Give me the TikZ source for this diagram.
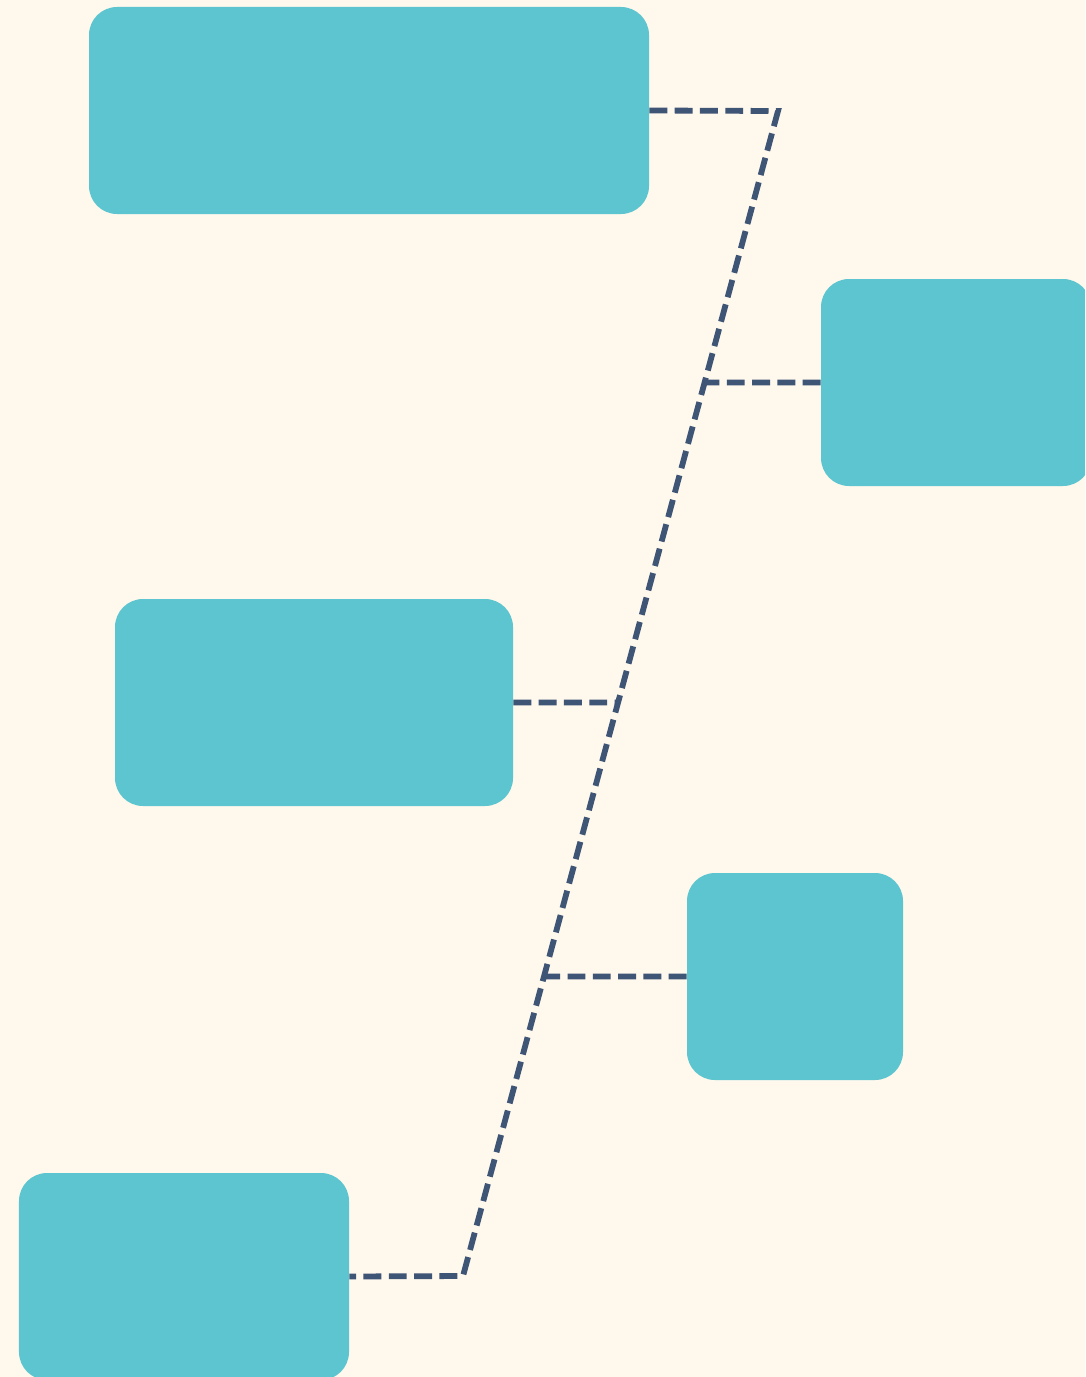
\documentclass[tikz,border=0pt]{standalone}
\usepackage{xcolor}
\usepackage{tikz}
\usetikzlibrary{positioning,calc}
\definecolor{fondo}{HTML}{FFF8EC}
\definecolor{ciano}{HTML}{5DC5CF}
\definecolor{linea}{HTML}{3E5576}
\tikzset{
  tappa/.style={rectangle,rounded corners=0.56cm,fill=ciano,draw=none,minimum height=4.14cm,inner sep=0pt},
  ramo/.style={linea,line width=3.3pt,dash pattern=on 10.2pt off 4.2pt}
}
\begin{document}
\begin{tikzpicture}
  \fill[fondo] (0,0) rectangle (21.7,-27.54);
  \useasboundingbox (0,0) rectangle (21.7,-27.54);
  \begin{scope}
  \clip (0,0) rectangle (21.7,-27.54);
  \node[tappa,minimum width=11.2cm] (b1) at (7.38,-2.21) {};
  \node[tappa,minimum width=5.4cm] (b2) at (19.12,-7.65) {};
  \node[tappa,minimum width=7.96cm] (b3) at (6.28,-14.05) {};
  \node[tappa,minimum width=4.32cm] (b4) at (15.9,-19.53) {};
  \node[tappa,minimum width=6.6cm] (b5) at (3.68,-25.53) {};
  \coordinate (alto) at (15.56,-2.22);
  \coordinate (basso) at (9.26,-25.52);
  \coordinate (j2) at (intersection of alto--basso and b2.west--b2.east);
  \coordinate (j3) at (intersection of alto--basso and b3.west--b3.east);
  \coordinate (j4) at (intersection of alto--basso and b4.west--b4.east);
  \draw[ramo] (b1.east) -- (alto) -- (basso) -- (b5.east);
  \draw[ramo] (b2.west) -- (j2);
  \draw[ramo] (b3.east) -- (j3);
  \draw[ramo] (b4.west) -- (j4);
  \end{scope}
\end{tikzpicture}
\end{document}
